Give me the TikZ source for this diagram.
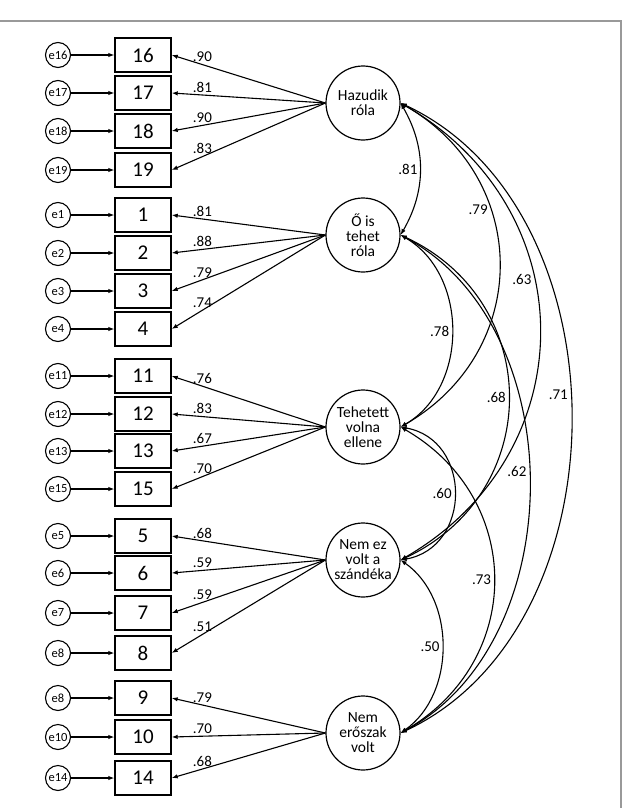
\documentclass[tikz,border=0pt]{standalone}
\usepackage{fontspec}
\setmainfont{Carlito}
\usepackage{tikz}
\usetikzlibrary{arrows.meta}

\begin{document}
\begin{tikzpicture}[x=1pt, y=-1pt,
    >={Latex[length=6pt,width=4.5pt]},
    itembox/.style={draw, line width=1.4pt, minimum width=56pt, minimum height=34pt, inner sep=0pt, font=\fontsize{21}{24}\selectfont},
    errnode/.style={circle, draw, line width=1.1pt, minimum size=25pt, inner sep=0pt, font=\fontsize{12.5}{13}\selectfont},
    latent/.style={circle, draw, line width=1.2pt, minimum size=74pt, inner sep=0pt, align=center, font=\fontsize{15.5}{15}\selectfont},
    arr/.style={->, line width=1.1pt},
    corr/.style={<->, line width=1.1pt},
    lab/.style={font=\fontsize{15}{16}\selectfont, inner sep=2pt}]
        \useasboundingbox (0,0) rectangle (623,808);
        \draw[line width=1.5pt, black!40] (0,21) -- (621,21) -- (621,808);

        % latent factors
        \node[latent] (hazudik) at (363, 103) {Hazudik\\róla};
        \node[latent] (oistehet) at (363, 235) {Ő is\\tehet\\róla};
        \node[latent] (tehetett) at (363, 427) {Tehetett\\volna\\ellene};
        \node[latent] (nemez) at (363, 560) {Nem ez\\volt a\\szándéka};
        \node[latent] (eroszak) at (363, 733) {Nem\\erőszak\\volt};

        % items
        \node[itembox] (16) at (143, 55) {16};
        \node[itembox] (17) at (143, 93) {17};
        \node[itembox] (18) at (143, 131) {18};
        \node[itembox] (19) at (143, 170) {19};
        \node[itembox] (1) at (143, 215) {1};
        \node[itembox] (2) at (143, 253) {2};
        \node[itembox] (3) at (143, 291) {3};
        \node[itembox] (4) at (143, 329) {4};
        \node[itembox] (11) at (143, 376) {11};
        \node[itembox] (12) at (143, 414) {12};
        \node[itembox] (13) at (143, 451) {13};
        \node[itembox] (15) at (143, 489) {15};
        \node[itembox] (5) at (143, 536) {5};
        \node[itembox] (6) at (143, 573) {6};
        \node[itembox] (7) at (143, 613) {7};
        \node[itembox] (8) at (143, 653) {8};
        \node[itembox] (9) at (143, 698) {9};
        \node[itembox] (10) at (143, 737) {10};
        \node[itembox] (14) at (143, 778) {14};

        % error terms
        \node[errnode] (e16) at (58, 55) {e16};
        \node[errnode] (e17) at (58, 93) {e17};
        \node[errnode] (e18) at (58, 131) {e18};
        \node[errnode] (e19) at (58, 170) {e19};
        \node[errnode] (e1) at (58, 215) {e1};
        \node[errnode] (e2) at (58, 253) {e2};
        \node[errnode] (e3) at (58, 291) {e3};
        \node[errnode] (e4) at (58, 329) {e4};
        \node[errnode] (e11) at (58, 376) {e11};
        \node[errnode] (e12) at (58, 414) {e12};
        \node[errnode] (e13) at (58, 451) {e13};
        \node[errnode] (e15) at (58, 489) {e15};
        \node[errnode] (e5) at (58, 536) {e5};
        \node[errnode] (e6) at (58, 573) {e6};
        \node[errnode] (e7) at (58, 613) {e7};
        \node[errnode] (e8) at (58, 653) {e8};
        \node[errnode] (e8b) at (58, 698) {e8};
        \node[errnode] (e10) at (58, 737) {e10};
        \node[errnode] (e14) at (58, 778) {e14};

        \draw[arr] (e16) -- (16);
        \draw[arr] (e17) -- (17);
        \draw[arr] (e18) -- (18);
        \draw[arr] (e19) -- (19);
        \draw[arr] (e1) -- (1);
        \draw[arr] (e2) -- (2);
        \draw[arr] (e3) -- (3);
        \draw[arr] (e4) -- (4);
        \draw[arr] (e11) -- (11);
        \draw[arr] (e12) -- (12);
        \draw[arr] (e13) -- (13);
        \draw[arr] (e15) -- (15);
        \draw[arr] (e5) -- (5);
        \draw[arr] (e6) -- (6);
        \draw[arr] (e7) -- (7);
        \draw[arr] (e8) -- (8);
        \draw[arr] (e8b) -- (9);
        \draw[arr] (e10) -- (10);
        \draw[arr] (e14) -- (14);

        % loadings
        \draw[arr] (hazudik.west) -- node[lab, pos=0.8, above]{.90} (16.east);
        \draw[arr] (hazudik.west) -- node[lab, pos=0.8, above]{.81} (17.east);
        \draw[arr] (hazudik.west) -- node[lab, pos=0.8, above]{.90} (18.east);
        \draw[arr] (hazudik.west) -- node[lab, pos=0.8, above]{.83} (19.east);
        \draw[arr] (oistehet.west) -- node[lab, pos=0.8, above]{.81} (1.east);
        \draw[arr] (oistehet.west) -- node[lab, pos=0.8, above]{.88} (2.east);
        \draw[arr] (oistehet.west) -- node[lab, pos=0.8, above]{.79} (3.east);
        \draw[arr] (oistehet.west) -- node[lab, pos=0.8, above]{.74} (4.east);
        \draw[arr] (tehetett.west) -- node[lab, pos=0.8, above]{.76} (11.east);
        \draw[arr] (tehetett.west) -- node[lab, pos=0.8, above]{.83} (12.east);
        \draw[arr] (tehetett.west) -- node[lab, pos=0.8, above]{.67} (13.east);
        \draw[arr] (tehetett.west) -- node[lab, pos=0.8, above]{.70} (15.east);
        \draw[arr] (nemez.west) -- node[lab, pos=0.8, above]{.68} (5.east);
        \draw[arr] (nemez.west) -- node[lab, pos=0.8, above]{.59} (6.east);
        \draw[arr] (nemez.west) -- node[lab, pos=0.8, above]{.59} (7.east);
        \draw[arr] (nemez.west) -- node[lab, pos=0.8, above]{.51} (8.east);
        \draw[arr] (eroszak.west) -- node[lab, pos=0.8, above]{.79} (9.east);
        \draw[arr] (eroszak.west) -- node[lab, pos=0.8, above]{.70} (10.east);
        \draw[arr] (eroszak.west) -- node[lab, pos=0.8, above]{.68} (14.east);

        % correlations
        \draw[corr] (hazudik.east) to[bend left=30] node[lab, midway, left]{.81} (oistehet.east);
        \draw[corr] (hazudik.east) to[bend left=60, looseness=1.2] node[lab, pos=0.35, left]{.79} (tehetett.east);
        \draw[corr] (hazudik.east) to[bend left=60, looseness=1.2] node[lab, pos=0.4, left]{.63} (nemez.east);
        \draw[corr] (hazudik.east) to[bend left=65, looseness=1.02] node[lab, pos=0.47, left]{.71} (eroszak.east);
        \draw[corr] (oistehet.east) to[bend left=60, looseness=1.05] node[lab, midway, left]{.78} (tehetett.east);
        \draw[corr] (oistehet.east) to[bend left=65, looseness=1.25] node[lab, midway, left]{.68} (nemez.east);
        \draw[corr] (oistehet.east) to[bend left=62, looseness=1.0] node[lab, pos=0.48, left]{.62} (eroszak.east);
        \draw[corr] (tehetett.east) to[bend left=80, looseness=1.4] node[lab, midway, left]{.60} (nemez.east);
        \draw[corr] (tehetett.east) to[bend left=60, looseness=1.2] node[lab, midway, left]{.73} (eroszak.east);
        \draw[corr] (nemez.east) to[bend left=55] node[lab, midway, left]{.50} (eroszak.east);
    \end{tikzpicture}
\end{document}
